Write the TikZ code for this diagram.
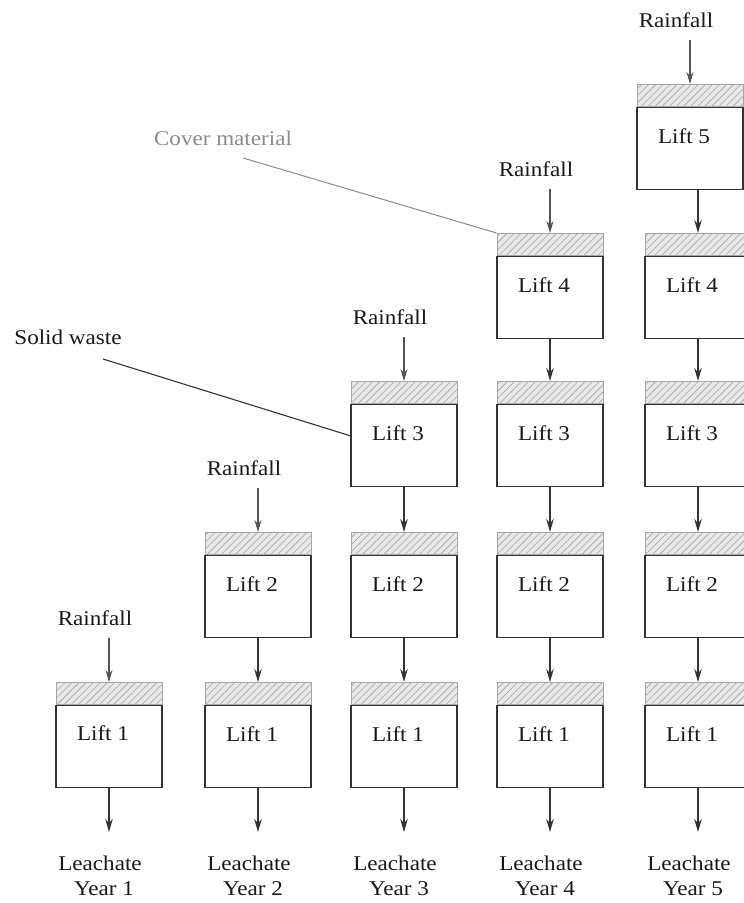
\documentclass[tikz,border=0pt]{standalone}
\usepackage{fontspec}
\setmainfont{Liberation Serif}[FakeStretch=1.1]
\usetikzlibrary{patterns.meta,arrows.meta}
\definecolor{boxline}{HTML}{333333}
\definecolor{covergray}{HTML}{8C8C8C}
\begin{document}
\begin{tikzpicture}[x=1pt,y=-1pt,
  liftbox/.style={draw=boxline, line width=1.3pt, minimum width=106pt, minimum height=82pt, inner sep=0pt, anchor=north},
  capbox/.style={draw=gray!70, line width=0.8pt, minimum width=106pt, minimum height=22pt, inner sep=0pt, anchor=south,
    preaction={fill=gray!18}, pattern={Lines[angle=45,distance=5pt,line width=0.6pt]}, pattern color=gray!70},
  lab/.style={font=\fontsize{21}{24}\selectfont, inner sep=0pt, text=black!90},
  flow/.style={draw=boxline, line width=1.6pt, -{Stealth[length=13pt,width=7.5pt]}},
  rain/.style={draw=gray!65!black, line width=1.1pt, -{Stealth[length=12pt,width=7pt]}}]
\clip (0,0) rectangle (744,903);
\fill[white] (0,0) rectangle (744,903);
% caps and boxes
\foreach \c/\r/\x/\y in {1/1/109/682, 2/1/258/682, 2/2/258/532, 3/1/404/682, 3/2/404/532, 3/3/404/381,
  4/1/550/682, 4/2/550/532, 4/3/550/381, 4/4/550/233,
  5/1/698/682, 5/2/698/532, 5/3/698/381, 5/4/698/233, 5/5/690/84}{
  \node[capbox, anchor=north] (cap-\c-\r) at (\x,\y) {};
  \node[liftbox] (box-\c-\r) at (cap-\c-\r.south) {};
  \node[lab] (t-\c-\r) at ([xshift=-6pt,yshift=-29pt]box-\c-\r.north) {Lift \r};
}
% flows between lifts
\foreach \c/\r in {2/2, 3/2, 3/3, 4/2, 4/3, 4/4, 5/2, 5/3, 5/4, 5/5}{
  \pgfmathtruncatemacro{\rb}{\r-1}
  \draw[flow] (box-\c-\r.south -| cap-\c-\rb.north) -- (cap-\c-\rb.north);
}
% rainfall
\foreach \c in {1,...,5}{
  \node[lab] (rain-\c) at ([xshift=-14pt,yshift=64pt]cap-\c-\c.north) {Rainfall};
  \coordinate (rs-\c) at ([yshift=44pt]cap-\c-\c.north);
  \draw[rain] (rs-\c) -- (cap-\c-\c.north);
}
% leachate
\foreach \c in {1,...,5}{
  \coordinate (le-\c) at (box-\c-1.south |- 0,832);
  \draw[flow] (box-\c-1.south) -- (le-\c);
  \node[lab] (leach-\c) at ([xshift=-9pt]box-\c-1.south |- 0,863) {Leachate};
  \node[lab] (year-\c) at ([xshift=-5pt]box-\c-1.south |- 0,889) {Year \c};
}
% annotations
\node[lab] (solid) at (68,337) {Solid waste};
\coordinate (solidend) at (103,359);
\coordinate (solidtip) at ([yshift=-32pt]box-3-3.north west);
\draw[boxline, line width=1.1pt] (solidend) -- (solidtip);
\node[lab, text=covergray] (cover) at (223,138) {Cover material};
\coordinate (coverend) at (243,158);
\draw[covergray, line width=1pt] (coverend) -- (cap-4-4.north west);
\end{tikzpicture}
\end{document}
